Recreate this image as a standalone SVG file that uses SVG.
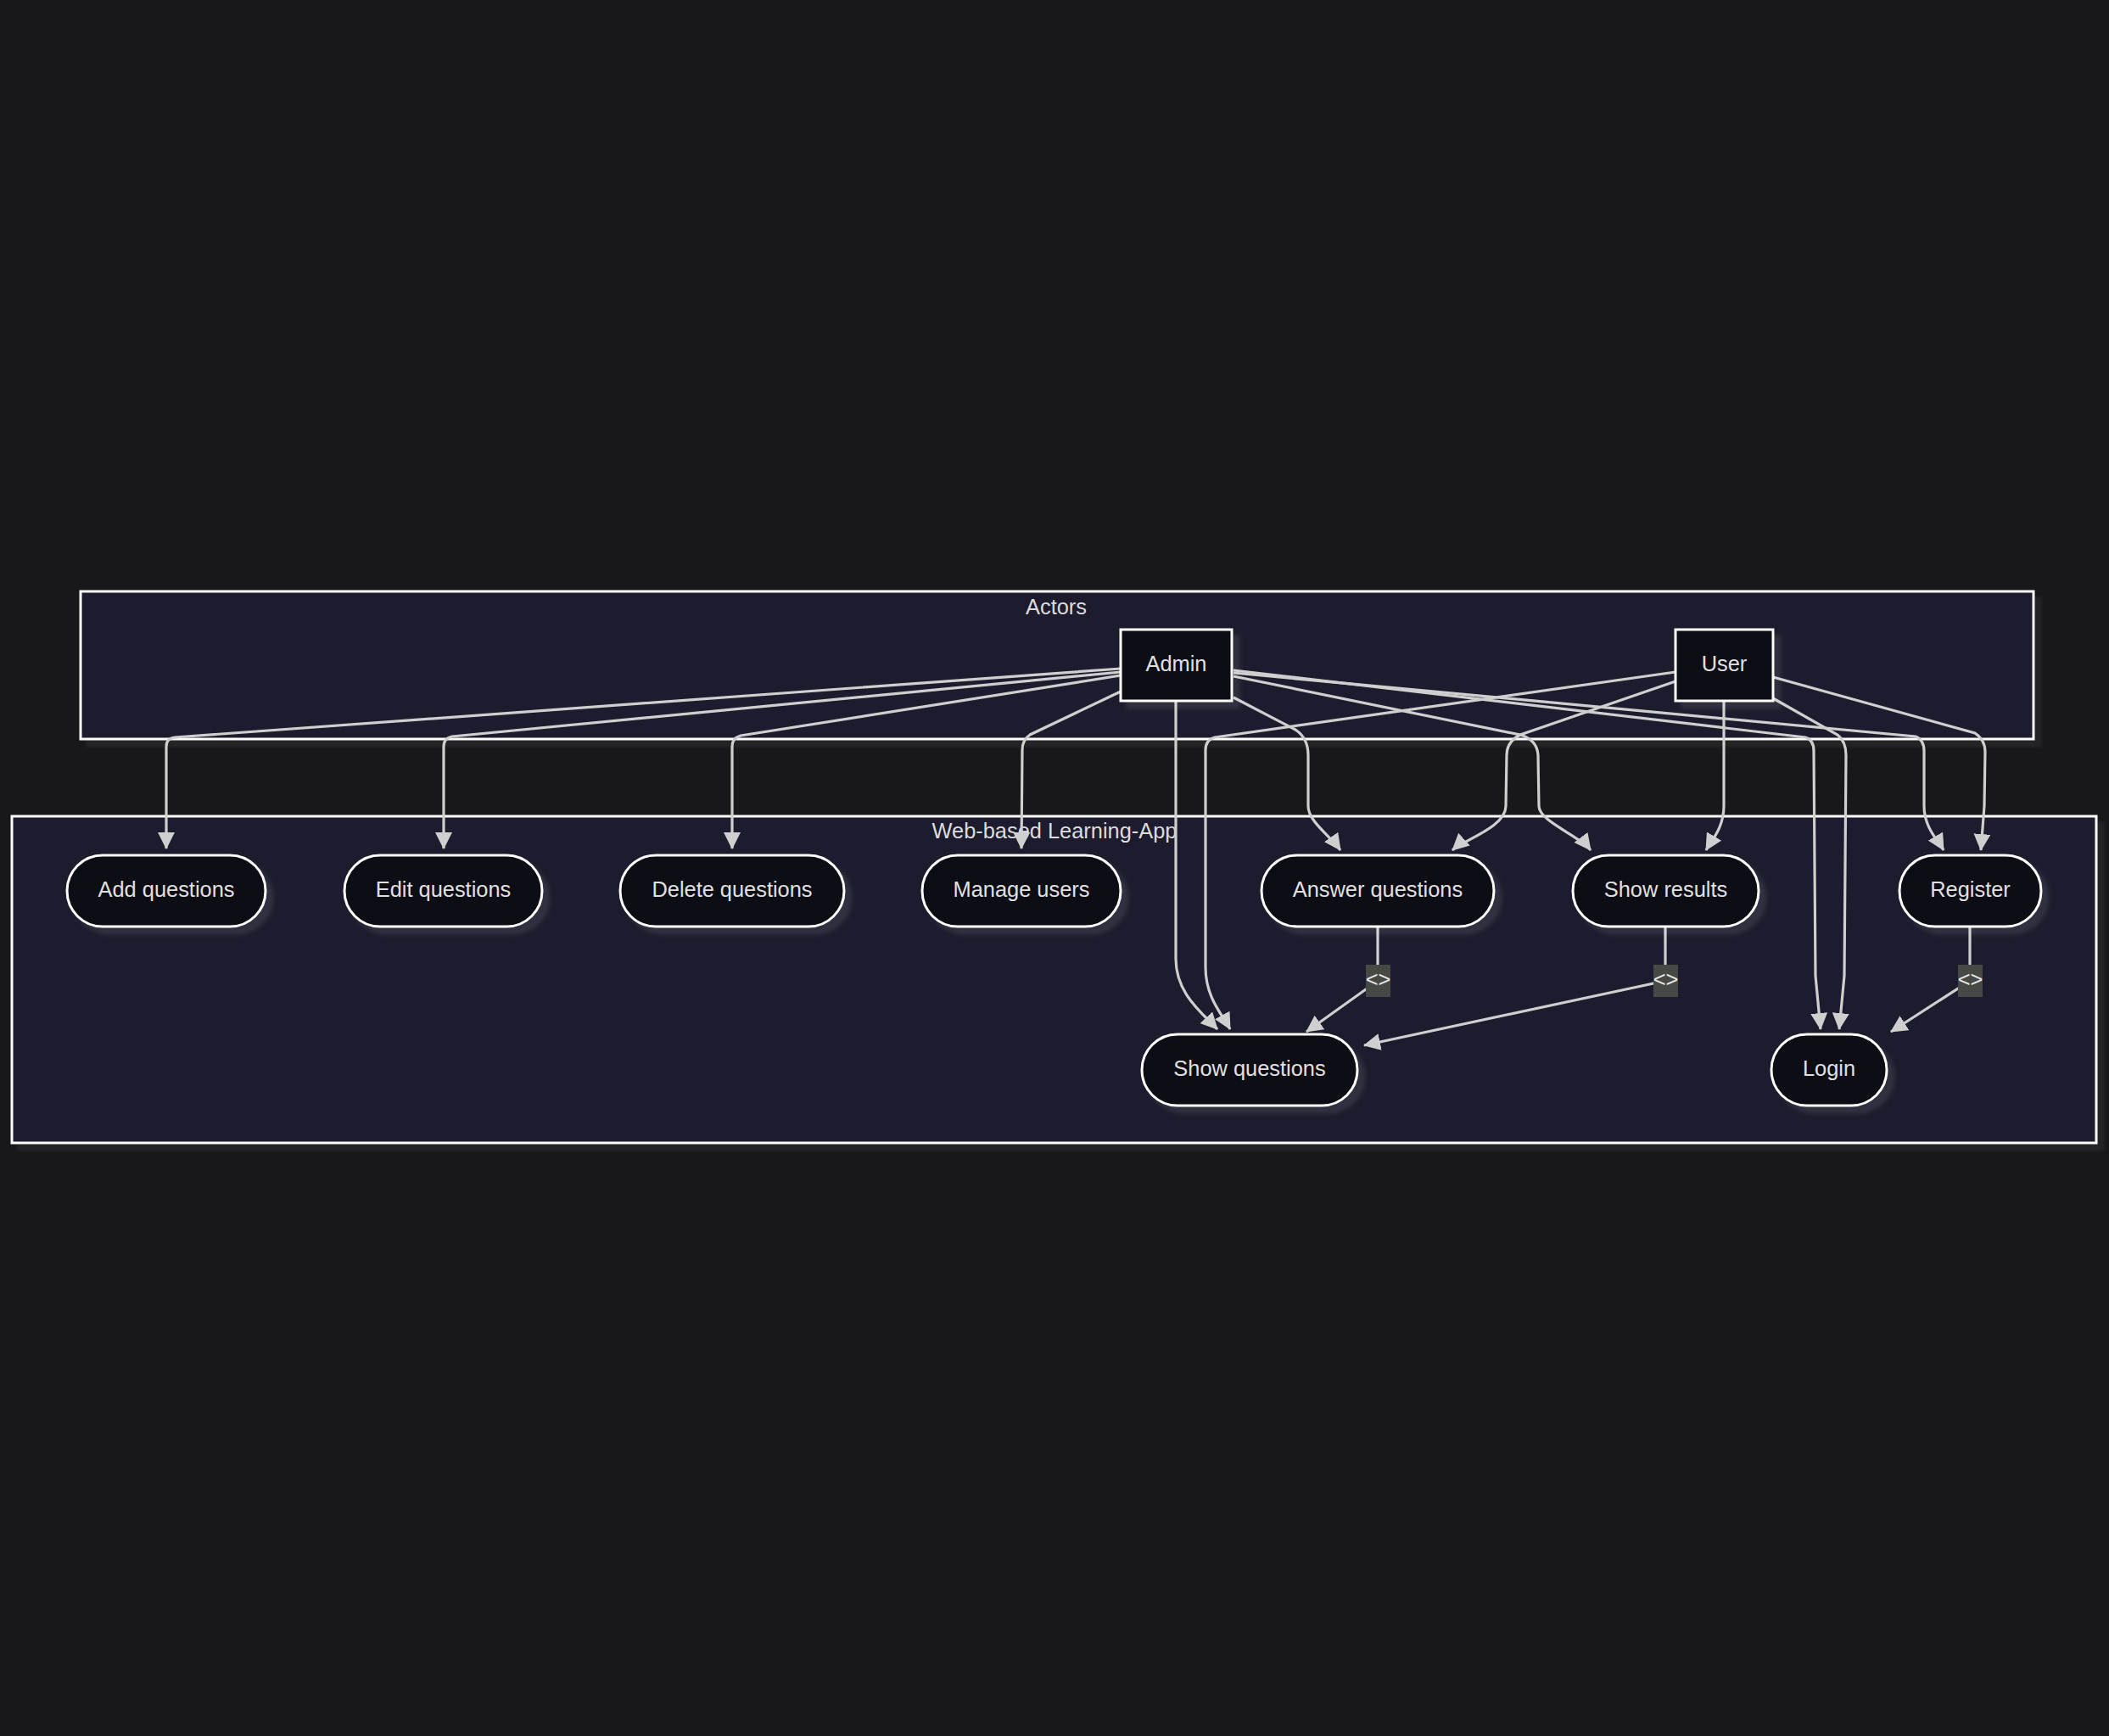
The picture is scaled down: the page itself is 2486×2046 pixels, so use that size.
<svg xmlns="http://www.w3.org/2000/svg" width="2486" height="2046" viewBox="0 0 2486 2046">
<defs>
<style>
.cluster{fill:#1e1d2f;stroke:#ffffff;stroke-width:3;filter:url(#cs)}
.ctitle{font-family:"Liberation Sans",Arial,sans-serif;font-size:25.4px;fill:#dcdcdc;text-anchor:middle;dominant-baseline:central}
.node{fill:#0d0d15;stroke:#ffffff;stroke-width:3;filter:url(#ns)}
.nt{font-family:"Liberation Sans",Arial,sans-serif;font-size:25.4px;fill:#e0e0e0;text-anchor:middle;dominant-baseline:central}
.edge{fill:none;stroke:#cfcfcf;stroke-width:3.2;marker-end:url(#arr)}
.lbox{fill:#474945}
.lt{font-family:"Liberation Sans",Arial,sans-serif;font-size:25.4px;fill:#e8e8e8;text-anchor:middle;dominant-baseline:central}
</style>
<filter id="ns" x="-20%" y="-20%" width="140%" height="150%">
<feDropShadow dx="8" dy="8" stdDeviation="2.5" flood-color="#ffffff" flood-opacity="0.09"/>
</filter>
<filter id="cs" x="-5%" y="-10%" width="110%" height="120%">
<feDropShadow dx="8" dy="8" stdDeviation="1.5" flood-color="#ffffff" flood-opacity="0.05"/>
</filter>
<marker id="arr" markerUnits="userSpaceOnUse" markerWidth="20" markerHeight="20" viewBox="0 0 20 20" refX="19" refY="10" orient="auto">
<path d="M0,0 L20,10 L0,20 z" fill="#cfcfcf"/>
</marker>
</defs>
<rect x="0" y="0" width="2486" height="2046" fill="#18181a"/>
<g id="clusters">
<g id="Actors">
<rect class="cluster" x="95" y="697" width="2302" height="174"/>
<text class="ctitle" x="1245" y="715">Actors</text>
</g>
<g id="WebApp">
<rect class="cluster" x="14" y="962" width="2457" height="385"/>
<text class="ctitle" x="1243" y="979">Web-based Learning-App</text>
</g>
</g>
<g id="connectors">
<path class="edge" d="M1321,788 L206,869 Q196,870 196,880 L196,1000"/>
<path class="edge" d="M1321,792 L533,868 Q523,870 523,880 L523,1000"/>
<path class="edge" d="M1321,796 L873,867 Q863,870 863,880 L863,1000"/>
<path class="edge" d="M1321,815 L1214,866 Q1205,872 1205,884 L1204,1000"/>
<path class="edge" d="M1386,826 L1386,1130 C1386,1170 1415,1192 1435,1213"/>
<path class="edge" d="M1975,792 L1432,869 Q1421,872 1421,884 L1421,1140 C1421,1175 1440,1195 1450,1213"/>
<path class="edge" d="M1454,822 L1527,860 Q1542,870 1542,890 L1542,950 C1542,968 1568,985 1580,1002"/>
<path class="edge" d="M1454,797 L1792,866 Q1812,872 1813,890 L1814,950 C1814,968 1862,985 1875,1002"/>
<path class="edge" d="M1454,790 L2128,869 Q2138,872 2138,885 L2140,1150 L2146,1213"/>
<path class="edge" d="M2090,823 L2166,866 Q2176,874 2176,890 L2174,1150 L2168,1213"/>
<path class="edge" d="M1454,793 L2258,868 Q2268,872 2268,885 L2268,950 C2268,975 2284,990 2291,1002"/>
<path class="edge" d="M2090,798 L2328,864 Q2340,872 2340,886 L2339,950 L2335,1002"/>
<path class="edge" d="M1975,803 L1792,866 Q1776,874 1776,890 L1775,950 C1775,975 1725,990 1712,1002"/>
<path class="edge" d="M2032,826 L2032,950 C2032,975 2018,990 2011,1002"/>
<path class="edge" d="M1624,1092 L1624,1156 L1540,1216"/>
<path class="edge" d="M1963,1092 L1963,1156 L1608,1232"/>
<path class="edge" d="M2322,1092 L2322,1156 L2229,1216"/>
</g>
<g id="edge-labels">
<g id="lbl-answer"><rect class="lbox" x="1610" y="1137" width="29" height="38"/><text class="lt" x="1624.5" y="1154">&lt;&gt;</text></g>
<g id="lbl-results"><rect class="lbox" x="1949" y="1137" width="29" height="38"/><text class="lt" x="1963.5" y="1154">&lt;&gt;</text></g>
<g id="lbl-register"><rect class="lbox" x="2308" y="1137" width="29" height="38"/><text class="lt" x="2322.5" y="1154">&lt;&gt;</text></g>
</g>
<g id="nodes">
<g id="Admin"><rect class="node" x="1321" y="742" width="131" height="84"/><text class="nt" x="1386.5" y="782">Admin</text></g>
<g id="User"><rect class="node" x="1975" y="742" width="115" height="84"/><text class="nt" x="2032.5" y="782">User</text></g>
<g id="AddQ"><rect class="node" x="79" y="1008" width="234" height="84" rx="42"/><text class="nt" x="196" y="1048">Add questions</text></g>
<g id="EditQ"><rect class="node" x="406" y="1008" width="233" height="84" rx="42"/><text class="nt" x="522.5" y="1048">Edit questions</text></g>
<g id="DeleteQ"><rect class="node" x="731" y="1008" width="264" height="84" rx="42"/><text class="nt" x="863" y="1048">Delete questions</text></g>
<g id="ManageU"><rect class="node" x="1087" y="1008" width="234" height="84" rx="42"/><text class="nt" x="1204" y="1048">Manage users</text></g>
<g id="AnswerQ"><rect class="node" x="1487" y="1008" width="274" height="84" rx="42"/><text class="nt" x="1624" y="1048">Answer questions</text></g>
<g id="ShowR"><rect class="node" x="1854" y="1008" width="219" height="84" rx="42"/><text class="nt" x="1963.5" y="1048">Show results</text></g>
<g id="Register"><rect class="node" x="2239" y="1008" width="167" height="84" rx="42"/><text class="nt" x="2322.5" y="1048">Register</text></g>
<g id="ShowQ"><rect class="node" x="1346" y="1219" width="254" height="84" rx="42"/><text class="nt" x="1473" y="1259">Show questions</text></g>
<g id="Login"><rect class="node" x="2088" y="1219" width="136" height="84" rx="42"/><text class="nt" x="2156" y="1259">Login</text></g>
</g>
</svg>
